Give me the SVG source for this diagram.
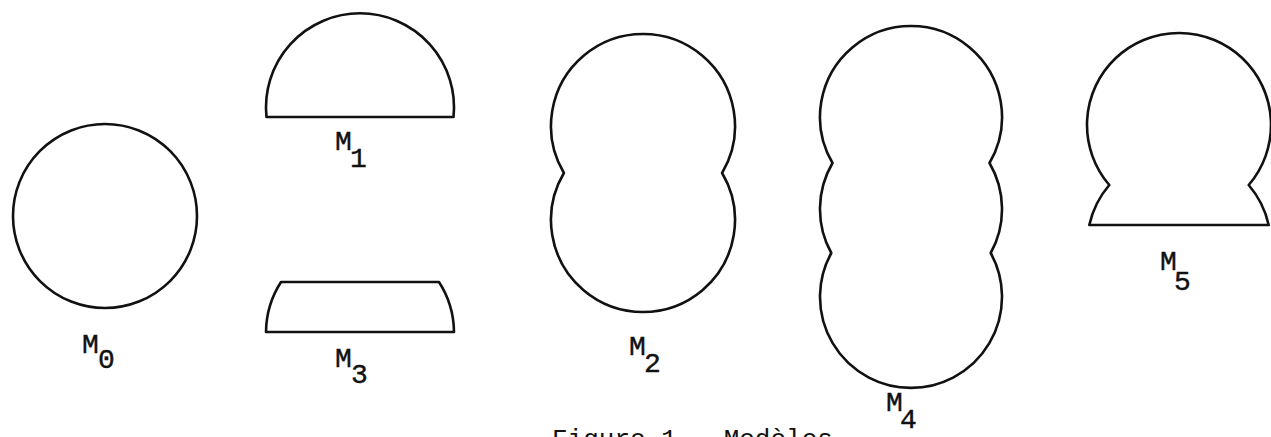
<svg xmlns="http://www.w3.org/2000/svg" width="1271" height="437" viewBox="0 0 1271 437">
<style>
.shape{fill:none;stroke:#111;stroke-width:2.6;stroke-linejoin:round;stroke-linecap:round}
.lbl{font-family:"Liberation Mono","DejaVu Sans Mono",monospace;font-size:28px;fill:#111;stroke:#111;stroke-width:0.4}
.cap{font-family:"Liberation Mono","DejaVu Sans Mono",monospace;font-size:26px;fill:#111}
</style>
<rect width="1271" height="437" fill="#fff"/>
<g id="M0">
<circle class="shape" cx="105" cy="216" r="92"/>
<text class="lbl" x="82" y="353">M</text>
<text class="lbl" x="98" y="368">0</text>
</g>
<g id="M1">
<path class="shape" d="M266.5,117 A94,94 0 1 1 453.5,117 Z"/>
<text class="lbl" x="335" y="150">M</text>
<text class="lbl" x="350" y="167">1</text>
</g>
<g id="M3">
<path class="shape" d="M281,282 L439,282 A94,94 0 0 1 454,332 L266,332 A94,94 0 0 1 281,282 Z"/>
<text class="lbl" x="335" y="367">M</text>
<text class="lbl" x="351" y="383">3</text>
</g>
<g id="M2">
<path class="shape" d="M563.9,173 A92,92 0 1 1 722.1,173 A92,92 0 1 1 563.9,173 Z"/>
<text class="lbl" x="629" y="355">M</text>
<text class="lbl" x="644" y="372">2</text>
</g>
<g id="M4">
<path class="shape" d="M832.5,163 A91,91 0 1 1 989.5,163 A91,91 0 0 1 990.7,253 A91,91 0 1 1 831.3,253 A91,91 0 0 1 832.5,163 Z"/>
<text class="lbl" x="886" y="411">M</text>
<text class="lbl" x="900" y="428">4</text>
</g>
<g id="M5">
<path class="shape" d="M1109.3,185 A92,92 0 1 1 1248.7,185 A92,92 0 0 1 1268.7,225 L1089.3,225 A92,92 0 0 1 1109.3,185 Z"/>
<text class="lbl" x="1160" y="270">M</text>
<text class="lbl" x="1174" y="290">5</text>
</g>
<g id="connectors"/>
<g id="caption">
<text class="cap" x="552" y="447">Figure 1 - Modèles</text>
</g>
</svg>
